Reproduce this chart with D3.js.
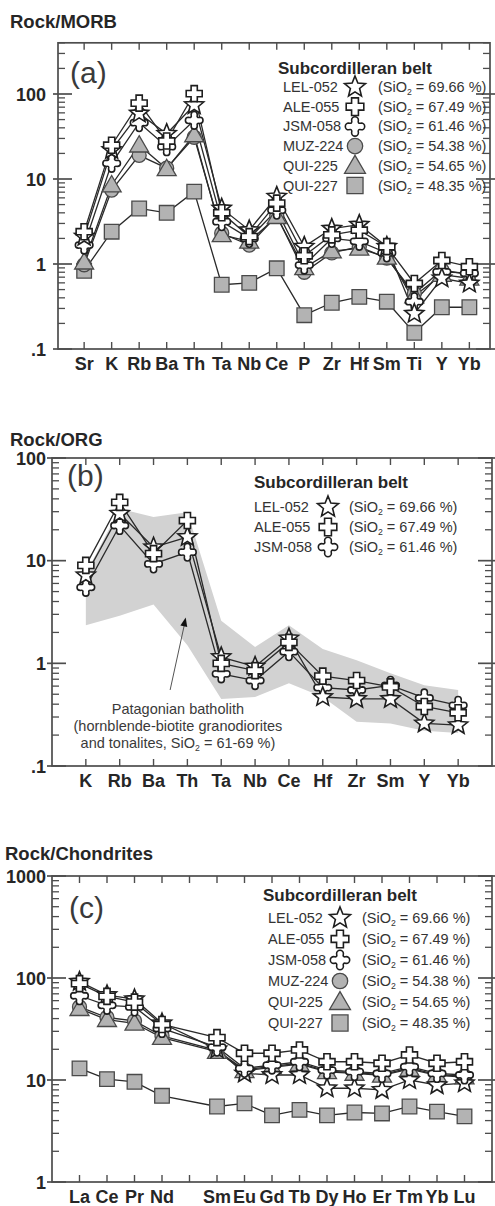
<!DOCTYPE html>
<html><head><meta charset="utf-8">
<script src="https://cdn.jsdelivr.net/npm/d3@7"></script>
<style>body{margin:0;background:#fff}svg{display:block}</style>
</head><body>
<svg id="c" width="495" height="1206"></svg>
<script>
// ---------- DATA ----------
const sampleNames = ["LEL-052","ALE-055","JSM-058","MUZ-224","QUI-225","QUI-227"];
const sampleSiO2  = ["69.66","67.49","61.46","54.38","54.65","48.35"];
const sampleSymbols = ["star","plus","jsm","circle","triangle","square"];

// (a) Rock/MORB
const elementsA = ["Sr","K","Rb","Ba","Th","Ta","Nb","Ce","P","Zr","Hf","Sm","Ti","Y","Yb"];
const LEL_A    = [2.1, 22, 59, 34, 74, 4.5, 2.5, 6.2, 1.6, 2.6, 2.9, 1.6, 0.26, 0.68, 0.59];
const ALE_A    = [2.4, 25, 78, 28, 101, 4.0, 2.1, 5.2, 1.25, 2.2, 2.5, 1.6, 0.59, 1.1, 0.93];
const JSM_A    = [1.67, 15.3, 46, 24, 49, 3.15, 2.0, 4.3, 0.97, 2.0, 1.85, 1.35, 0.36, 0.81, 0.78];
const MUZ_A    = [0.98, 7.4, 19, 13.4, 31, 2.3, 1.67, 3.7, 0.8, 1.35, 1.6, 1.17, 0.45, 0.85, 0.75];
const QUI225_A = [1.05, 8.5, 25, 13.2, 33, 2.2, 1.85, 3.6, 0.9, 1.42, 1.53, 1.2, 0.42, 0.75, 0.68];
const QUI227_A = [0.83, 2.4, 4.5, 4.0, 7.1, 0.57, 0.6, 0.89, 0.25, 0.35, 0.41, 0.36, 0.155, 0.31, 0.31];
const yTicksA = [0.1, 1, 10, 100];
const yTickLabelsA = [".1","1","10","100"];

// (b) Rock/ORG
const elementsB = ["K","Rb","Ba","Th","Ta","Nb","Ce","Hf","Zr","Sm","Y","Yb"];
const LEL_B = [7.2, 28.7, 13.5, 17, 1.15, 0.93, 1.75, 0.47, 0.45, 0.45, 0.26, 0.25];
const ALE_B = [9.0, 37, 11.7, 24.6, 1.0, 0.85, 1.6, 0.75, 0.68, 0.59, 0.38, 0.33];
const JSM_B = [5.5, 22, 9.3, 12.1, 0.79, 0.68, 1.3, 0.58, 0.55, 0.61, 0.46, 0.39];
const bandUpperB = [7.5, 32, 26.6, 29.7, 2.6, 1.44, 2.35, 1.38, 1.07, 0.8, 0.61, 0.55];
const bandLowerB = [2.35, 2.9, 3.75, 1.5, 0.45, 0.47, 0.64, 0.47, 0.27, 0.26, 0.22, 0.21];
const yTicksB = [0.1, 1, 10, 100];
const yTickLabelsB = [".1","1","10","100"];
const bandNote = ["Patagonian batholith","(hornblende-biotite granodiorites","and tonalites, SiO\u2082 = 61-69 %)"];

// (c) Rock/Chondrites
const elementsC = ["La","Ce","Pr","Nd","Pm","Sm","Eu","Gd","Tb","Dy","Ho","Er","Tm","Yb","Lu"];
const labelsC   = ["La","Ce","Pr","Nd","","Sm","Eu","Gd","Tb","Dy","Ho","Er","Tm","Yb","Lu"];
const LEL_C    = [92, 68, 62, 36, null, 20, 11.6, 11.2, 11.2, 8.3, 8.3, 8.0, 10, 8.9, 9.3];
const ALE_C    = [88, 66, 58, 35, null, 26, 18.3, 18.3, 19.7, 15.1, 15.1, 14.6, 17.6, 14.6, 15.1];
const JSM_C    = [67, 54, 52, 32, null, 21, 13, 14, 15.1, 12.5, 12.1, 11.6, 13.5, 11.6, 11.2];
const MUZ_C    = [52, 41, 38, 27, null, 19.5, 12.6, 13.6, 14.6, 12.2, 11.8, 11.3, 13.1, 11.3, 10.9];
const QUI225_C = [50, 39, 36, 26, null, 19, 12.3, 13.3, 14.3, 12, 11.6, 11.1, 12.8, 11.1, 10.7];
const QUI227_C = [13, 10.2, 9.6, 7.0, null, 5.5, 5.9, 4.5, 5.1, 4.5, 4.8, 4.7, 5.5, 4.9, 4.4];
const yTicksC = [1, 10, 100, 1000];
const yTickLabelsC = ["1","10","100","1000"];

// ---------- DRAWING ----------
const FONT = "'Liberation Sans', Arial, Helvetica, sans-serif";
const INK = "#262626";
const svg = d3.select("#c");

function symbolPath(type, s) {
  s = s || 1;
  if (type === "star") {
    const R = 10 * s, r = 4.4 * s, pts = [];
    for (let i = 0; i < 10; i++) {
      const a = -Math.PI / 2 + i * Math.PI / 5, rr = i % 2 ? r : R;
      pts.push([rr * Math.cos(a), rr * Math.sin(a)]);
    }
    return "M" + pts.map(p => p[0].toFixed(2) + "," + p[1].toFixed(2)).join("L") + "Z";
  }
  if (type === "plus") {
    const L = 8 * s, w = 3.1 * s;
    const p = [[-w,-L],[w,-L],[w,-w],[L,-w],[L,w],[w,w],[w,L],[-w,L],[-w,w],[-L,w],[-L,-w],[-w,-w]];
    return "M" + p.map(q => q.map(v => v.toFixed(2)).join(",")).join("L") + "Z";
  }
  if (type === "jsm") {
    const a = 3.1 * s, L = 5.7 * s, c = 2.1 * s;
    return `M${-a},${-L}A${a},${a} 0 0 1 ${a},${-L}Q${c},${-c} ${L},${-a}` +
           `A${a},${a} 0 0 1 ${L},${a}Q${c},${c} ${a},${L}` +
           `A${a},${a} 0 0 1 ${-a},${L}Q${-c},${c} ${-L},${a}` +
           `A${a},${a} 0 0 1 ${-L},${-a}Q${-c},${-c} ${-a},${-L}Z`;
  }
  if (type === "circle") {
    const r = 7 * s;
    return `M${r},0A${r},${r} 0 1 1 ${-r},0A${r},${r} 0 1 1 ${r},0Z`;
  }
  if (type === "triangle") {
    return `M0,${-9.5 * s}L${9.5 * s},${6.8 * s}L${-9.5 * s},${6.8 * s}Z`;
  }
  const q = 7.3 * s;
  return `M${-q},${-q}H${q}V${q}H${-q}Z`;
}
function symbolStyle(sel, type) {
  const gray = (type === "circle" || type === "triangle" || type === "square");
  sel.attr("fill", gray ? "#b3b3b3" : "#fff")
     .attr("stroke", gray ? "#4a4a4a" : "#1e1e1e")
     .attr("stroke-width", gray ? 1.3 : 1.6)
     .attr("stroke-linejoin", "miter");
}

function drawPanel(cfg) {
  const g = svg.append("g");
  const { x, y, cats, labels, series, title, titleY, letter, letterY, legend } = cfg;
  const [x0, x1] = x.range();
  const [yb, yt] = y.range();

  if (cfg.band) {
    const pts = [];
    cfg.band.upper.forEach((v, i) => pts.push([x(i), y(v)]));
    for (let i = cfg.band.lower.length - 1; i >= 0; i--) pts.push([x(i), y(cfg.band.lower[i])]);
    g.append("path").attr("d", "M" + pts.map(p => p.join(",")).join("L") + "Z")
      .attr("fill", "#d2d2d2").attr("stroke", "none");
  }

  g.append("rect").attr("x", x0).attr("y", yt).attr("width", x1 - x0).attr("height", yb - yt)
    .attr("fill", "none").attr("stroke", "#4d4d4d").attr("stroke-width", 1.7);

  const yt_all = y.ticks(40).filter(v => v >= y.domain()[0] - 1e-9 && v <= y.domain()[1] + 1e-9);
  yt_all.forEach(v => {
    const lg = Math.log10(v);
    const major = Math.abs(lg - Math.round(lg)) < 1e-6;
    const yy = y(v);
    g.append("line").attr("x1", x0 - (major ? 5 : 0)).attr("x2", x0 + (major ? 14 : 7))
      .attr("y1", yy).attr("y2", yy).attr("stroke", "#4d4d4d").attr("stroke-width", major ? 1.7 : 1.3);
    g.append("line").attr("x1", x1 + (major ? 5 : 0)).attr("x2", x1 - (major ? 14 : 7))
      .attr("y1", yy).attr("y2", yy).attr("stroke", "#4d4d4d").attr("stroke-width", major ? 1.7 : 1.3);
  });
  cfg.yTicks.forEach((v, i) => {
    g.append("text").attr("x", 46).attr("y", y(v) + 6.5).attr("text-anchor", "end")
      .attr("font-family", FONT).attr("font-weight", "bold").attr("font-size", 18)
      .attr("fill", INK).text(cfg.yTickLabels[i]);
  });

  cats.forEach((c, i) => {
    g.append("line").attr("x1", x(i)).attr("x2", x(i)).attr("y1", yt).attr("y2", yt + 7)
      .attr("stroke", "#4d4d4d").attr("stroke-width", 1.4);
    g.append("line").attr("x1", x(i)).attr("x2", x(i)).attr("y1", yb).attr("y2", yb - 7)
      .attr("stroke", "#4d4d4d").attr("stroke-width", 1.4);
    g.append("text").attr("x", x(i)).attr("y", yb + 21).attr("text-anchor", "middle")
      .attr("font-family", FONT).attr("font-weight", "bold").attr("font-size", 18)
      .attr("fill", INK).text(labels[i]);
  });

  g.append("text").attr("x", cfg.titleX).attr("y", titleY).attr("font-family", FONT)
    .attr("font-weight", "bold").attr("font-size", 18.5).attr("fill", INK).text(title);
  g.append("text").attr("x", cfg.letterX).attr("y", letterY).attr("font-family", FONT)
    .attr("font-size", 30).attr("fill", "#3a3a3a").text(letter);

  if (cfg.note) cfg.note(g);

  const line = d3.line().x(d => x(d.i)).y(d => y(d.v));
  series.forEach(s => {
    const pts = s.values.map((v, i) => ({ i, v })).filter(d => d.v != null);
    g.append("path").attr("d", line(pts)).attr("fill", "none")
      .attr("stroke", "#2a2a2a").attr("stroke-width", 1.3);
  });
  series.forEach(s => {
    const pts = s.values.map((v, i) => ({ i, v })).filter(d => d.v != null);
    g.selectAll(null).data(pts).enter().append("path")
      .attr("d", symbolPath(s.symbol, 1))
      .attr("transform", d => `translate(${x(d.i)},${y(d.v)})`)
      .call(symbolStyle, s.symbol);
  });

  const L = legend;
  g.append("text").attr("x", L.titleX).attr("y", L.titleY).attr("font-family", FONT)
    .attr("font-weight", "bold").attr("font-size", L.titleSize).attr("fill", INK).text("Subcordilleran belt");
  L.rows.forEach((k, j) => {
    const cy = L.row0 + j * L.dy;
    g.append("text").attr("x", L.labelX).attr("y", cy + 5).attr("font-family", FONT)
      .attr("font-size", L.fontSize).attr("fill", "#333").text(sampleNames[k]);
    const sym = sampleSymbols[k];
    g.append("path").attr("d", symbolPath(sym, 1.1)).attr("transform", `translate(${L.symX},${cy})`)
      .call(symbolStyle, sym);
    const t = g.append("text").attr("x", L.textX).attr("y", cy + 5).attr("font-family", FONT)
      .attr("font-size", L.fontSize).attr("fill", "#333");
    t.append("tspan").text("(SiO");
    t.append("tspan").attr("font-size", L.fontSize * 0.6).attr("dy", 3).text("2");
    t.append("tspan").attr("dy", -3).text(" = " + sampleSiO2[k] + " %)");
  });
}

// Panel (a)
const xA = d3.scaleLinear().domain([-0.95, 14.75]).range([58, 490]);
const yA = d3.scaleLog().domain([0.1, 400]).range([349, 349 - 85 * Math.log10(4000)]);
drawPanel({
  x: xA, y: yA, cats: elementsA, labels: elementsA,
  series: [
    { values: QUI227_A, symbol: "square" },
    { values: MUZ_A, symbol: "circle" },
    { values: QUI225_A, symbol: "triangle" },
    { values: JSM_A, symbol: "jsm" },
    { values: LEL_A, symbol: "star" },
    { values: ALE_A, symbol: "plus" }
  ],
  yTicks: yTicksA, yTickLabels: yTickLabelsA,
  title: "Rock/MORB", titleX: 10, titleY: 28,
  letter: "(a)", letterX: 70, letterY: 83,
  legend: { titleX: 278, titleY: 74, titleSize: 17, rows: [0,1,2,3,4,5], row0: 87, dy: 19.7,
            labelX: 283, symX: 355, textX: 378, fontSize: 14.5 }
});

// Panel (b)
const xB = d3.scaleLinear().domain([-1, 12]).range([52, 492]);
const yB = d3.scaleLog().domain([0.1, 100]).range([766, 458]);
drawPanel({
  x: xB, y: yB, cats: elementsB, labels: elementsB,
  band: { upper: bandUpperB, lower: bandLowerB },
  series: [
    { values: JSM_B, symbol: "jsm" },
    { values: LEL_B, symbol: "star" },
    { values: ALE_B, symbol: "plus" }
  ],
  yTicks: yTicksB, yTickLabels: yTickLabelsB,
  title: "Rock/ORG", titleX: 10, titleY: 446,
  letter: "(b)", letterX: 67, letterY: 486,
  legend: { titleX: 254, titleY: 488, titleSize: 17, rows: [0,1,2], row0: 507, dy: 20,
            labelX: 254, symX: 328, textX: 349, fontSize: 14.5 },
  note: g => {
    g.append("line").attr("x1", xB(2.49)).attr("y1", yB(0.55)).attr("x2", xB(2.92)).attr("y2", yB(2.45))
      .attr("stroke", "#555").attr("stroke-width", 1);
    const tx = xB(2.95), ty = yB(2.8);
    const ang = Math.atan2(yB(2.8) - yB(0.55), xB(2.95) - xB(2.49));
    const hl = 9, hw = 3.5;
    const bx = tx - hl * Math.cos(ang), by = ty - hl * Math.sin(ang);
    const px = -Math.sin(ang) * hw, py = Math.cos(ang) * hw;
    g.append("path").attr("d", `M${tx},${ty}L${bx + px},${by + py}L${bx - px},${by - py}Z`).attr("fill", "#111");
    bandNote.forEach((s, i) => {
      const t = g.append("text").attr("x", xB(2.72)).attr("y", 714 + i * 17).attr("text-anchor", "middle")
        .attr("font-family", FONT).attr("font-size", 14.5).attr("fill", "#3a3a3a");
      if (i === 2) {
        t.append("tspan").text("and tonalites, SiO");
        t.append("tspan").attr("font-size", 8.7).attr("dy", 3).text("2");
        t.append("tspan").attr("dy", -3).text(" = 61-69 %)");
      } else t.text(s);
    });
  }
});

// Panel (c)
const xC = d3.scaleLinear().domain([-1, 15]).range([52, 492]);
const yC = d3.scaleLog().domain([1, 1000]).range([1182, 876]);
drawPanel({
  x: xC, y: yC, cats: elementsC, labels: labelsC,
  series: [
    { values: QUI227_C, symbol: "square" },
    { values: MUZ_C, symbol: "circle" },
    { values: QUI225_C, symbol: "triangle" },
    { values: LEL_C, symbol: "star" },
    { values: JSM_C, symbol: "jsm" },
    { values: ALE_C, symbol: "plus" }
  ],
  yTicks: yTicksC, yTickLabels: yTickLabelsC,
  title: "Rock/Chondrites", titleX: 5, titleY: 860,
  letter: "(c)", letterX: 69, letterY: 918,
  legend: { titleX: 263, titleY: 901, titleSize: 17, rows: [0,1,2,3,4,5], row0: 918, dy: 21,
            labelX: 268, symX: 340, textX: 362, fontSize: 14.5 }
});
</script>
</body></html>
